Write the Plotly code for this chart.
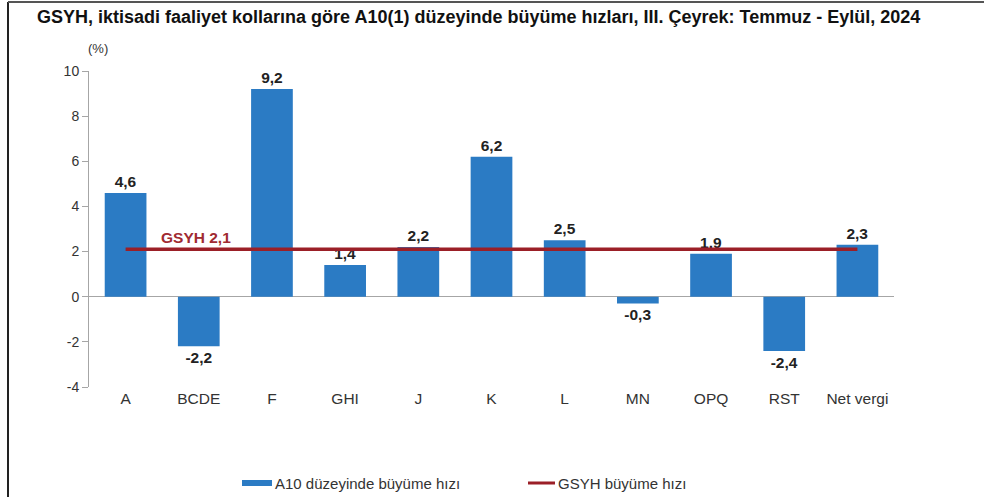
import plotly.graph_objects as go

categories = ["A", "BCDE", "F", "GHI", "J", "K", "L", "MN", "OPQ", "RST", "Net vergi"]
growth = [4.6, -2.2, 9.2, 1.4, 2.2, 6.2, 2.5, -0.3, 1.9, -2.4, 2.3]
gdp_growth = 2.1
y_ticks = [-4, -2, 0, 2, 4, 6, 8, 10]

title = "GSYH, iktisadi faaliyet kollarına göre A10(1) düzeyinde büyüme hızları, III. Çeyrek: Temmuz - Eylül, 2024"
bar_name = "A10 düzeyinde büyüme hızı"
line_name = "GSYH büyüme hızı"

BLUE = "#2b7bc4"
RED = "#9b1f27"
FONT = "Liberation Sans, Arial, sans-serif"

def fmt(v):
    return f"{v:.1f}".replace(".", ",")

fig = go.Figure()
fig.add_trace(go.Bar(
    x=categories, y=growth, width=0.57,
    marker=dict(color=BLUE, line=dict(width=0)),
    text=[fmt(v) for v in growth], textposition="outside",
    textfont=dict(family=FONT, size=15.5, color="#222222", weight="bold"),
    cliponaxis=False, showlegend=False, name=bar_name,
))
fig.add_trace(go.Scatter(
    x=[categories[0], categories[-1]], y=[gdp_growth, gdp_growth],
    mode="lines", line=dict(color=RED, width=3.5),
    showlegend=False, name=line_name,
))

W, H = 984, 497
L, R = 89, 90
T, B = 71, 110
pw = W - L - R
ph = H - T - B

def px(x):
    return (x - L) / pw

def py(y):
    return (H - B - y) / ph

ann = [
    dict(text="<b>" + title + "</b>", x=px(35), y=py(17), xanchor="left", yanchor="middle",
         font=dict(family=FONT, size=18, color="#111111")),
    dict(text="(%)", x=px(98), y=py(48), xanchor="center", yanchor="middle",
         font=dict(family=FONT, size=13, color="#333333")),
    dict(text="<b>GSYH " + fmt(gdp_growth) + "</b>", x=px(196), y=py(237), xanchor="center", yanchor="middle",
         font=dict(family=FONT, size=15.5, color="#a02a31")),
    dict(text=bar_name, x=px(273), y=py(483), xanchor="left", yanchor="middle",
         font=dict(family=FONT, size=15, color="#333333")),
    dict(text=line_name, x=px(556), y=py(483), xanchor="left", yanchor="middle",
         font=dict(family=FONT, size=15, color="#333333")),
]
for a in ann:
    a.update(xref="paper", yref="paper", showarrow=False)

shapes = [
    dict(type="rect", x0=px(242), x1=px(272), y0=py(480), y1=py(486),
         fillcolor=BLUE, line=dict(width=0)),
    dict(type="line", x0=px(528), x1=px(555), y0=py(483), y1=py(483),
         line=dict(color=RED, width=3)),
    dict(type="line", x0=px(8), x1=px(8), y0=py(2), y1=py(497),
         line=dict(color="#222222", width=2)),
    dict(type="line", x0=px(8), x1=px(984), y0=py(2), y1=py(2),
         line=dict(color="#555555", width=2)),
]
for s in shapes:
    s.update(xref="paper", yref="paper")

fig.update_layout(
    width=W, height=H,
    margin=dict(l=L, r=R, t=T, b=B),
    paper_bgcolor="white", plot_bgcolor="white",
    annotations=ann, shapes=shapes,
    font=dict(family=FONT, size=13, color="#333333"),
)
fig.update_xaxes(
    range=[-0.5, len(categories) - 0.5], showgrid=False, showline=False,
    ticks="", tickfont=dict(family=FONT, size=15.5, color="#333333"),
    zeroline=False,
)
fig.update_yaxes(
    range=[-4, 10], tickvals=y_ticks, ticktext=[str(v) for v in y_ticks],
    showgrid=False, showline=True, linecolor="#a6a6a6", linewidth=1,
    ticks="outside", ticklen=6, tickcolor="#a6a6a6",
    zeroline=True, zerolinecolor="#a6a6a6", zerolinewidth=1,
    tickfont=dict(family=FONT, size=14, color="#333333"),
)

fig.write_html(
    "out.html",
    config={"displayModeBar": False},
    post_script="document.body.style.margin='0';document.body.style.overflow='hidden';",
)
